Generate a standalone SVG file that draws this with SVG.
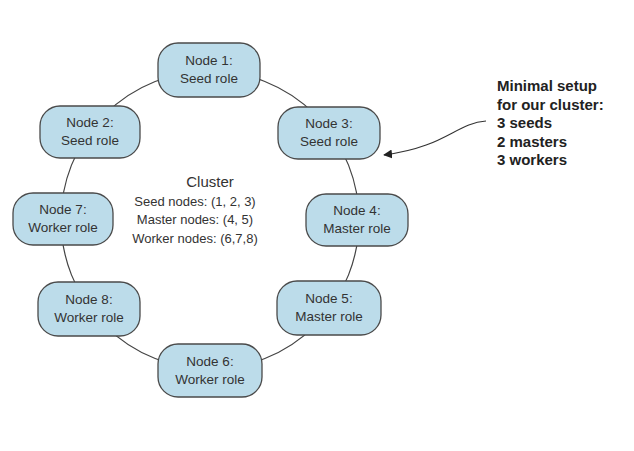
<svg xmlns="http://www.w3.org/2000/svg" width="634" height="451" viewBox="0 0 634 451">
<defs>
<style>
.node rect{fill:#bcdcea;stroke:#4a4a4a;stroke-width:1.3}
.node text{font-family:"Liberation Sans",Arial,sans-serif;font-size:13.5px;fill:#333;text-anchor:middle}
.ring{fill:none;stroke:#444;stroke-width:1.2}
.lbl{font-family:"Liberation Sans",Arial,sans-serif;fill:#333;text-anchor:middle}
.note{font-family:"Liberation Sans",Arial,sans-serif;font-weight:bold;font-size:15px;fill:#222}
</style>
<marker id="ah" viewBox="0 0 10 10" refX="9" refY="5" markerWidth="9" markerHeight="9" orient="auto" markerUnits="userSpaceOnUse">
<path d="M0,0 L10,5 L0,10 Z" fill="#222"/>
</marker>
</defs>
<rect width="634" height="451" fill="#fff"/>
<g id="connectors">
<circle class="ring" cx="210" cy="220" r="149"/>
<path d="M486,121 C456,123 446,147 384,155" fill="none" stroke="#333" stroke-width="1.1" marker-end="url(#ah)"/>
</g>
<g id="node1" class="node"><rect x="158" y="43" width="102" height="54" rx="20"/><text x="209" y="65">Node 1:</text><text x="209" y="83">Seed role</text></g>
<g id="node2" class="node"><rect x="40" y="106" width="100" height="52" rx="20"/><text x="90" y="127">Node 2:</text><text x="90" y="145">Seed role</text></g>
<g id="node3" class="node"><rect x="278" y="107" width="102" height="52" rx="20"/><text x="329" y="128">Node 3:</text><text x="329" y="146">Seed role</text></g>
<g id="node7" class="node"><rect x="13" y="193" width="100" height="52" rx="20"/><text x="63" y="214">Node 7:</text><text x="63" y="232">Worker role</text></g>
<g id="node4" class="node"><rect x="306" y="194" width="102" height="52" rx="20"/><text x="357" y="215">Node 4:</text><text x="357" y="233">Master role</text></g>
<g id="node8" class="node"><rect x="38" y="282" width="102" height="54" rx="20"/><text x="89" y="304">Node 8:</text><text x="89" y="322">Worker role</text></g>
<g id="node5" class="node"><rect x="277" y="281" width="104" height="54" rx="20"/><text x="329" y="303">Node 5:</text><text x="329" y="321">Master role</text></g>
<g id="node6" class="node"><rect x="158" y="344" width="104" height="53" rx="20"/><text x="210" y="366">Node 6:</text><text x="210" y="384">Worker role</text></g>
<g id="cluster">
<text class="lbl" x="210" y="187" font-size="15">Cluster</text>
<text class="lbl" x="195" y="206" font-size="13">Seed nodes: (1, 2, 3)</text>
<text class="lbl" x="195" y="224" font-size="13">Master nodes: (4, 5)</text>
<text class="lbl" x="195" y="243" font-size="13">Worker nodes: (6,7,8)</text>
</g>
<g id="note">
<text class="note" x="497" y="91">Minimal setup</text>
<text class="note" x="497" y="110">for our cluster:</text>
<text class="note" x="497" y="128">3 seeds</text>
<text class="note" x="497" y="147">2 masters</text>
<text class="note" x="497" y="165">3 workers</text>
</g>
</svg>
